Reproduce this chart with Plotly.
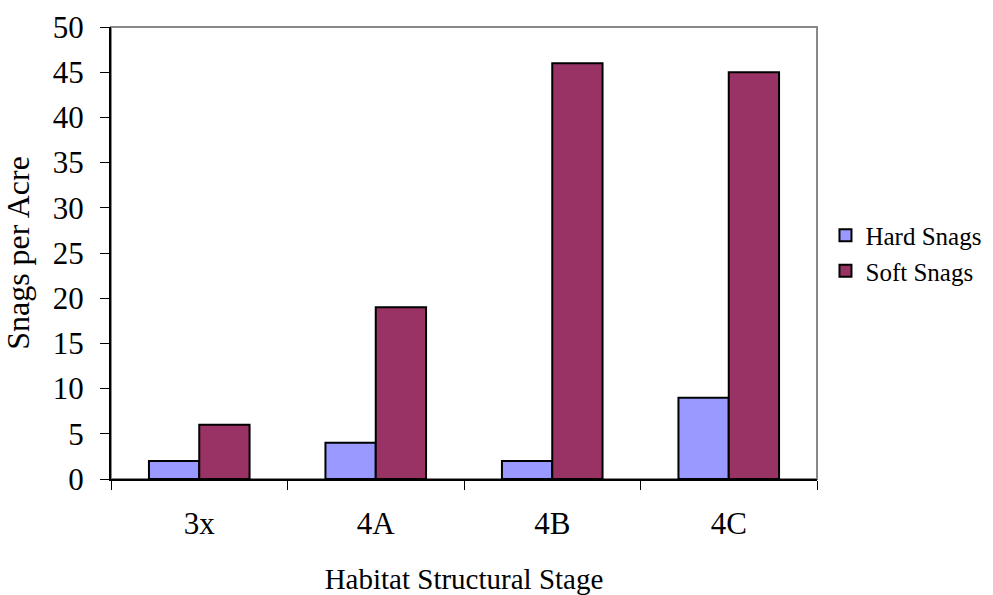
import plotly.graph_objects as go

categories = ["3x", "4A", "4B", "4C"]
hard_snags = [2, 4, 2, 9]
soft_snags = [6, 19, 46, 45]
y_ticks = [0, 5, 10, 15, 20, 25, 30, 35, 40, 45, 50]

FONT = "Liberation Serif, Times New Roman, serif"

fig = go.Figure()
fig.add_trace(go.Bar(name="Hard Snags", x=categories, y=hard_snags,
                     marker=dict(color="#9999FF", line=dict(color="black", width=2))))
fig.add_trace(go.Bar(name="Soft Snags", x=categories, y=soft_snags,
                     marker=dict(color="#993366", line=dict(color="black", width=2))))

fig.update_layout(
    width=993, height=595,
    margin=dict(l=111, r=176, t=27, b=116, autoexpand=False),
    paper_bgcolor="white", plot_bgcolor="white",
    barmode="group", bargap=0.43, bargroupgap=0,
    font=dict(family=FONT, color="black", size=28),
    showlegend=True,
    legend=dict(x=1.012, y=0.5, xanchor="left", yanchor="middle",
                font=dict(size=25, family=FONT), bgcolor="rgba(0,0,0,0)",
                itemsizing="constant", tracegroupgap=10, itemwidth=30),
    shapes=[dict(type="rect", xref="paper", yref="paper", x0=0, x1=1, y0=0, y1=1,
                 line=dict(color="#888888", width=2), layer="below")],
)
fig.update_xaxes(
    title=dict(text="Habitat Structural Stage", font=dict(size=29), standoff=38),
    showline=True, linecolor="black", linewidth=2,
    ticks="outside", tickson="boundaries", ticklen=9, tickcolor="black", tickwidth=1,
    tickfont=dict(size=31), ticklabelstandoff=16, showgrid=False,
)
fig.update_yaxes(
    title=dict(text="Snags per Acre", font=dict(size=32), standoff=14),
    range=[0, 50], tickvals=y_ticks, showline=True, linecolor="black", linewidth=2,
    ticks="outside", ticklen=9, tickcolor="black", tickwidth=1,
    tickfont=dict(size=31), ticklabelstandoff=10, showgrid=False, zeroline=False,
)

fig.write_html("out.html")
